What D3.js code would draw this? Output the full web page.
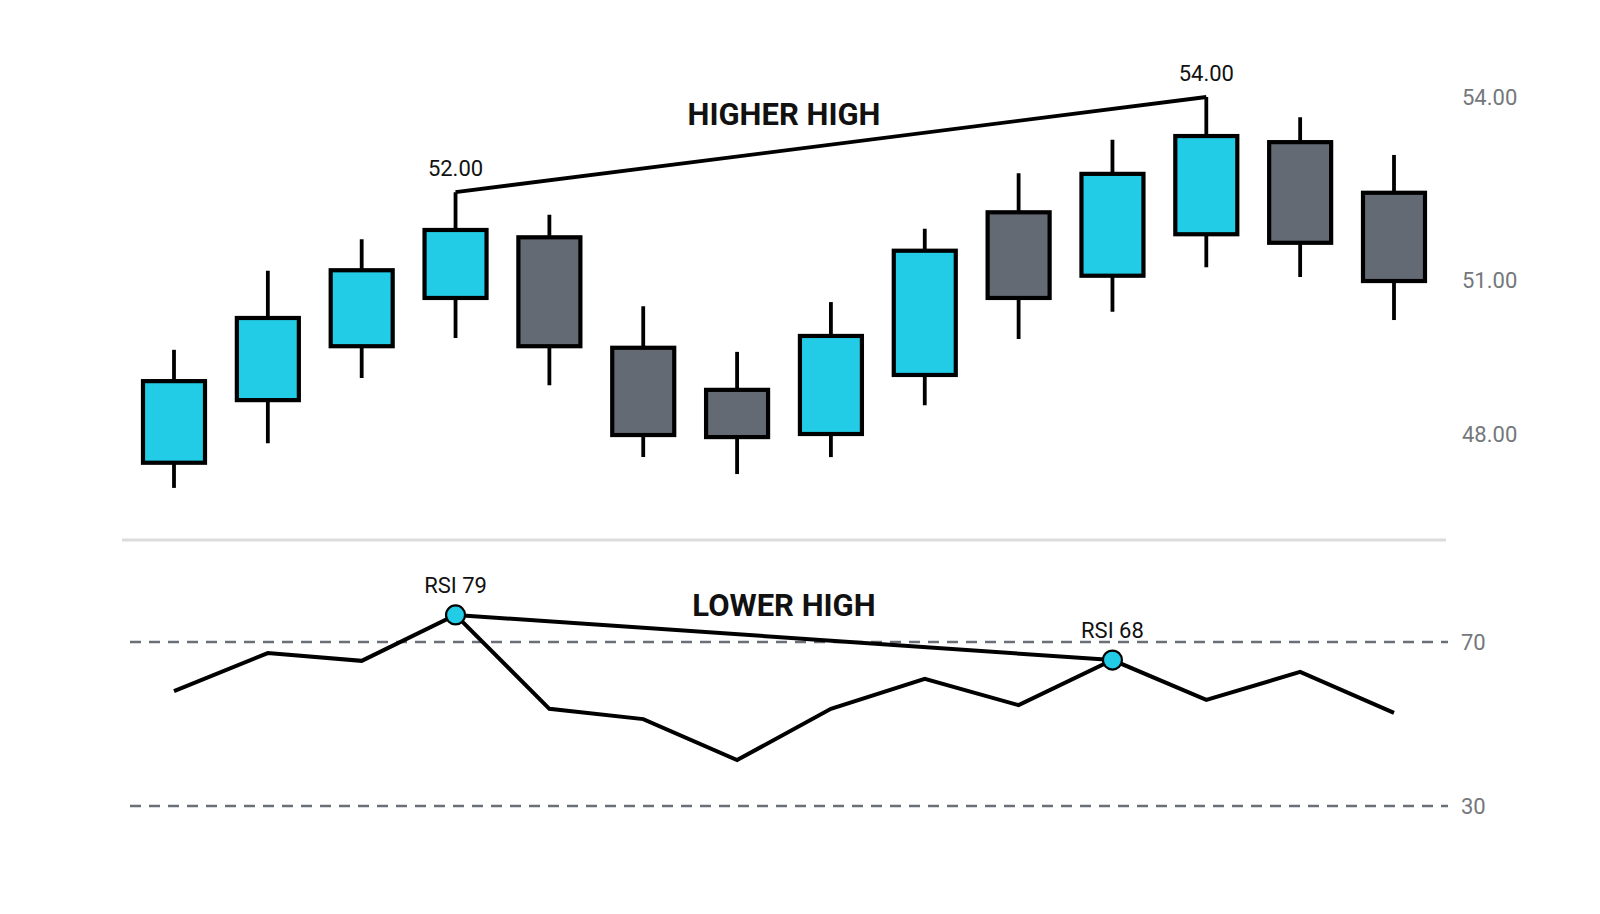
<!DOCTYPE html>
<html>
<head>
<meta charset="utf-8">
<script src="https://cdn.jsdelivr.net/npm/d3@7"></script>
<style>
  html, body { margin: 0; padding: 0; background: #ffffff; }
  svg { display: block; font-family: Roboto, "Open Sans", sans-serif; }
</style>
</head>
<body>
<svg id="chart" width="1600" height="914"></svg>
<script>
// ---- data ----
const opens  = [47.44, 48.66, 49.71, 50.65, 51.70, 49.68, 48.86, 48.00, 49.15, 52.11, 51.07, 51.75, 53.26, 52.43];
const highs  = [49.64, 51.15, 51.67, 52.44, 52.07, 50.49, 49.60, 50.57, 51.84, 52.75, 53.30, 54.00, 53.67, 53.05];
const lows   = [46.95, 47.82, 49.09, 49.87, 48.95, 47.55, 47.22, 47.55, 48.56, 49.85, 50.38, 51.21, 51.05, 50.22];
const closes = [49.03, 50.26, 51.16, 51.82, 49.71, 47.98, 47.94, 49.91, 51.48, 50.65, 52.74, 53.36, 51.61, 50.98];
const rsi    = [58.0, 67.3, 65.4, 76.6, 53.7, 51.2, 41.2, 53.7, 61.0, 54.6, 65.6, 55.9, 62.7, 52.7];

const priceTicks = [48, 51, 54];
const priceTickLabels = ["48.00", "51.00", "54.00"];
const rsiLevels = [70, 30];
const rsiLevelLabels = ["70", "30"];

const highPivots = [3, 11];               // candle indices joined by the "higher high" line
const highPivotLabels = ["52.00", "54.00"];
const rsiPivots = [3, 10];                // RSI points joined by the "lower high" line
const rsiPivotLabels = ["RSI 79", "RSI 68"];
const titles = ["HIGHER HIGH", "LOWER HIGH"];

// ---- setup ----
const svg = d3.select("#chart");
const idx = d3.range(opens.length);

const x = d3.scalePoint().domain(idx).range([174, 1394]);
// price axis in the reference is spaced unevenly; a piecewise-linear scale reproduces it
const yP = d3.scaleLinear().domain(priceTicks).range([434, 280, 97]);
const yR = d3.scaleLinear().domain([30, 70]).range([806, 642]);

const UP = "#22cce6", DOWN = "#646a74";
const bodyW = 62;

// ---- price axis labels ----
const pAxis = d3.axisRight(yP).tickValues(priceTicks)
  .tickFormat((d, i) => priceTickLabels[i]).tickSize(0).tickPadding(0);
svg.append("g").attr("transform", "translate(1462,0)").call(pAxis)
  .call(g => g.select(".domain").remove())
  .call(g => g.selectAll("text").attr("font-size", 22).attr("fill", "#74777c")
     .attr("font-family", "Roboto, sans-serif"));

// ---- candles ----
const cg = svg.append("g");
cg.selectAll("line.wick").data(idx).join("line")
  .attr("class", "wick")
  .attr("x1", i => x(i)).attr("x2", i => x(i))
  .attr("y1", i => yP(highs[i])).attr("y2", i => yP(lows[i]))
  .attr("stroke", "#000").attr("stroke-width", 3.8);
cg.selectAll("rect.body").data(idx).join("rect")
  .attr("class", "body")
  .attr("x", i => x(i) - bodyW / 2)
  .attr("width", bodyW)
  .attr("y", i => yP(Math.max(opens[i], closes[i])))
  .attr("height", i => Math.abs(yP(opens[i]) - yP(closes[i])))
  .attr("fill", i => closes[i] >= opens[i] ? UP : DOWN)
  .attr("stroke", "#000").attr("stroke-width", 4.2);

// higher-high line
svg.append("path")
  .attr("d", d3.line()(highPivots.map(i => [x(i), yP(highs[i])])))
  .attr("fill", "none").attr("stroke", "#000").attr("stroke-width", 3.8);
svg.selectAll("text.hpl").data(highPivots).join("text")
  .attr("class", "hpl")
  .attr("x", i => x(i)).attr("y", i => yP(highs[i]) - 16)
  .attr("text-anchor", "middle").attr("font-size", 22).attr("fill", "#111")
  .text((d, k) => highPivotLabels[k]);
svg.append("text").attr("x", 784).attr("y", 125)
  .attr("text-anchor", "middle").attr("font-size", 31).attr("font-weight", 700)
  .attr("fill", "#111").text(titles[0]);

// ---- divider ----
svg.append("line").attr("x1", 122).attr("x2", 1446).attr("y1", 540).attr("y2", 540)
  .attr("stroke", "#dcdcdc").attr("stroke-width", 3);

// ---- RSI panel ----
svg.selectAll("line.lvl").data(rsiLevels).join("line")
  .attr("class", "lvl")
  .attr("x1", 130).attr("x2", 1448)
  .attr("y1", d => yR(d)).attr("y2", d => yR(d))
  .attr("stroke", "#6b7078").attr("stroke-width", 2.5).attr("stroke-dasharray", "11,8");
svg.selectAll("text.lvl").data(rsiLevels).join("text")
  .attr("class", "lvl")
  .attr("x", 1461).attr("y", d => yR(d)).attr("dy", "0.35em")
  .attr("font-size", 22).attr("fill", "#74777c")
  .text((d, k) => rsiLevelLabels[k]);

svg.append("path")
  .attr("d", d3.line().x(i => x(i)).y(i => yR(rsi[i]))(idx))
  .attr("fill", "none").attr("stroke", "#000").attr("stroke-width", 4)
  .attr("stroke-linejoin", "miter");

svg.append("path")
  .attr("d", d3.line()(rsiPivots.map(i => [x(i), yR(rsi[i])])))
  .attr("fill", "none").attr("stroke", "#000").attr("stroke-width", 4);

svg.selectAll("circle.piv").data(rsiPivots).join("circle")
  .attr("class", "piv")
  .attr("cx", i => x(i)).attr("cy", i => yR(rsi[i])).attr("r", 9.5)
  .attr("fill", UP).attr("stroke", "#000").attr("stroke-width", 2.2);
svg.selectAll("text.piv").data(rsiPivots).join("text")
  .attr("class", "piv")
  .attr("x", i => x(i)).attr("y", i => yR(rsi[i]) - 22)
  .attr("text-anchor", "middle").attr("font-size", 22).attr("fill", "#111")
  .text((d, k) => rsiPivotLabels[k]);
svg.append("text").attr("x", 784).attr("y", 616)
  .attr("text-anchor", "middle").attr("font-size", 31).attr("font-weight", 700)
  .attr("fill", "#111").text(titles[1]);
</script>
</body>
</html>
